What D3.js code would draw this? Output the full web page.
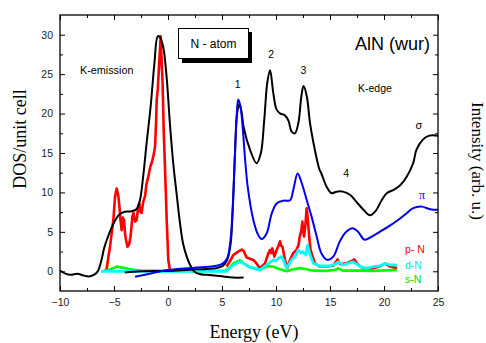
<!DOCTYPE html>
<html>
<head>
<meta charset="utf-8">
<script src="https://cdn.jsdelivr.net/npm/d3@7"></script>
<style>
  html, body { margin: 0; padding: 0; background: #fff; }
  svg { display: block; }
</style>
</head>
<body>
<svg id="chart" width="486" height="343"></svg>
<script>
// ---------- data (energy eV, DOS) ----------
const xTicks = [-10, -5, 0, 5, 10, 15, 20, 25];
const yTicks = [0, 5, 10, 15, 20, 25, 30];
const xMinor = [-7.5, -2.5, 2.5, 7.5, 12.5, 17.5, 22.5];
const yMinor = [2.5, 7.5, 12.5, 17.5, 22.5, 27.5, 32.5];

const totalEmission = [[-10,0.1],[-9.5,-0.3],[-9,-0.45],[-8.4,-0.3],[-7.9,-0.5],[-7.3,-0.65],[-6.8,-0.4],[-6.5,0],[-6.2,1.2],[-5.9,3.0],[-5.5,4.6],[-5.0,6.2],[-4.5,7.2],[-4.0,7.55],[-3.4,7.6],[-2.9,7.9],[-2.6,9.0],[-2.3,12.0],[-2.0,16.0],[-1.6,21.0],[-1.25,26.5],[-0.95,29.8],[-0.75,29.7],[-0.45,28.5],[-0.12,24.5],[0.2,18.3],[0.5,13.5],[0.8,9.8],[1.1,6.2],[1.4,3.5],[1.75,1.8],[2.05,0.8],[2.4,0],[2.9,-0.35],[3.6,-0.45],[4.8,-0.6],[6.0,-0.8],[7.0,-0.8]];

const totalEdge = [[-4.0,-0.15],[-2.5,0],[0,0.05],[2,0.2],[3.6,0.3],[4.5,0.4],[5.1,0.7],[5.5,1.5],[5.8,3.5],[6.0,8],[6.2,15],[6.4,20],[6.6,21.2],[6.8,20.3],[7.0,18.3],[7.6,15.4],[8.2,13.7],[8.6,15],[8.9,19],[9.2,24],[9.45,25.5],[9.75,22.6],[10.06,20.5],[10.4,20.0],[10.8,19.8],[11.15,19.1],[11.45,17.7],[11.75,17.5],[12.07,18.8],[12.35,22.2],[12.55,23.5],[12.85,22.2],[13.15,18.8],[13.6,15.4],[14.0,13.0],[14.2,12.4],[14.7,10.7],[15.15,9.9],[15.6,10.1],[16.2,10.1],[16.85,9.7],[17.45,8.8],[18.1,7.8],[18.7,7.1],[19.2,7.6],[19.8,9.05],[20.25,9.9],[20.85,10.3],[21.5,10.9],[22.1,12.0],[22.7,13.7],[23.0,15.4],[23.6,16.7],[24.2,17.2],[25,17.2]];

const piEdge = [[-3.05,-0.7],[-1.5,-0.25],[0,0.15],[1.5,0.35],[3,0.5],[4.5,0.7],[5.1,1.0],[5.5,1.7],[5.75,3.5],[5.95,7],[6.15,13],[6.35,19.5],[6.5,21.8],[6.7,21],[6.9,18.5],[7.15,14],[7.4,10.5],[7.9,6.5],[8.35,4.6],[8.67,4.1],[9.13,4.8],[9.6,7.3],[10.06,8.6],[10.7,8.95],[11.3,9.0],[11.6,10.3],[12.0,12.4],[12.38,11.2],[12.84,9.05],[13.3,6.9],[13.77,4.4],[14.2,2.3],[14.75,1.45],[15.3,1.85],[15.9,3.76],[16.5,5.0],[17.1,5.46],[17.6,5.0],[18.2,4.0],[18.86,4.4],[19.6,5.0],[20.4,5.66],[21.3,6.5],[22.1,7.36],[22.7,8.0],[23.5,8.2],[24.26,7.87],[25,7.8]];

const pEmission = [[-5.85,0],[-5.68,0.3],[-5.5,2.0],[-5.37,3.1],[-5.2,5],[-5.06,6.5],[-4.9,9.5],[-4.75,10.5],[-4.6,9.6],[-4.5,8.2],[-4.4,6.5],[-4.29,5.2],[-4.18,6.8],[-4.07,6.5],[-3.98,4.8],[-3.89,4.0],[-3.75,3.1],[-3.6,3.4],[-3.45,4.6],[-3.3,6.9],[-3.2,7.4],[-3.05,6.3],[-2.9,6.5],[-2.75,8.3],[-2.66,8.6],[-2.55,7.5],[-2.44,7.4],[-2.3,8.8],[-2.13,9.5],[-2.0,11],[-1.82,12.0],[-1.65,13.2],[-1.5,13.8],[-1.35,14.6],[-1.2,15.8],[-1.1,19],[-1.05,21.7],[-0.95,23],[-0.85,25.5],[-0.75,28],[-0.68,29.8],[-0.6,27],[-0.5,23.9],[-0.4,18],[-0.3,14],[-0.2,10],[-0.12,6.5],[0.03,1.4],[0.19,0.1]];

const pEdge = [[5.43,0.6],[5.75,1.3],[6.05,2.07],[6.5,2.5],[6.82,2.75],[7.0,2.6],[7.28,1.75],[7.9,1.43],[8.2,1.0],[8.5,0.4],[8.98,1.0],[9.3,2.3],[9.44,2.7],[9.55,2.3],[9.66,2.9],[9.85,1.85],[10.06,2.7],[10.25,3.3],[10.37,3.8],[10.5,3.2],[10.6,3.1],[10.83,1.45],[11.05,0.4],[11.3,1.45],[11.6,2.3],[11.9,2.7],[12.1,3.4],[12.2,4.4],[12.35,5.2],[12.44,6.3],[12.52,5.0],[12.6,4.4],[12.7,5.5],[12.84,8.0],[12.92,7.0],[13.0,5.7],[13.1,4.0],[13.2,2.7],[13.6,1.0],[14.07,0.6],[14.7,0.6],[15.3,0.7],[15.55,1.2],[15.7,1.5],[15.93,0.9],[16.5,1.0],[17.0,1.3],[17.25,1.5],[17.5,1.0],[17.8,0.6],[18.4,0.2],[19.0,0.4],[19.6,0.6],[20.1,1.0],[20.55,0.6],[21.2,0.4]];

const dN = [[-6.2,0],[-3,0],[0,0],[3,0],[5.4,0],[5.7,0.4],[6.05,0.8],[6.67,1.2],[7.0,1.0],[7.44,0.6],[8.0,0.4],[8.5,0.15],[9.13,0.8],[9.5,1.2],[9.75,1.45],[10.0,1.3],[10.2,1.65],[10.5,1.85],[10.7,1.4],[10.98,0.4],[11.2,0.9],[11.45,1.45],[11.76,1.85],[12.07,2.7],[12.3,2.3],[12.5,2.5],[12.75,2.1],[12.93,3.3],[13.15,2.1],[13.46,1.0],[14.07,0.67],[15.0,0.67],[15.5,0.9],[15.77,1.2],[16.2,0.8],[17.1,1.2],[17.5,0.9],[17.8,0.58],[18.4,0.38],[19.0,0.58],[19.6,0.67],[20.1,1.0],[20.55,0.8],[21.2,0.8]];

const sN = [[-6.0,0],[-5.5,0.2],[-5.06,0.4],[-4.75,0.6],[-4.4,0.5],[-4.1,0.45],[-3.6,0.3],[-3.2,0.2],[-2.5,0.1],[-1,0.05],[1,0.05],[3,0.05],[5.3,0.05],[5.7,0.5],[6.05,1.0],[6.67,1.4],[7.0,1.0],[7.6,0.5],[8.5,0.17],[9.0,0.5],[9.3,0.67],[9.75,0.58],[10.37,0.25],[10.98,0],[11.6,0.25],[12.2,0.4],[12.84,0.25],[13.46,0.08],[14.7,0.05],[15.5,0.2],[15.77,0.38],[16.2,0.08],[17.8,0.08],[19.0,0.05],[21.2,0.17]];

const peakLabels = [{t:"1",x:6.45,y:23.3},{t:"2",x:9.55,y:27.0},{t:"3",x:12.55,y:25.0},{t:"4",x:16.5,y:12.0}];

// ---------- layout ----------
const L = 60, R = 438, T = 15, B = 291;
const svg = d3.select("#chart");
const x = d3.scaleLinear().domain([-10, 25]).range([L, R]);
const y = d3.scaleLinear().domain([-2.5, 32.5]).range([B, T]);

const sans = "Arial, 'Liberation Sans', Helvetica, sans-serif";
const serif = "'Times New Roman', 'Liberation Serif', Times, serif";

// ---------- curves ----------
const smooth = d3.line().x(d => x(d[0])).y(d => y(d[1])).curve(d3.curveCatmullRom.alpha(0.5));
const jag = d3.line().x(d => x(d[0])).y(d => y(d[1]));

const plot = svg.append("g");
plot.append("path").datum(pEmission).attr("d", jag).attr("fill","none").attr("stroke","#ff0000").attr("stroke-width",2.6).attr("stroke-linejoin","round");
plot.append("path").datum(pEdge).attr("d", jag).attr("fill","none").attr("stroke","#ff0000").attr("stroke-width",2.6).attr("stroke-linejoin","round");
plot.append("path").datum(sN).attr("d", jag).attr("fill","none").attr("stroke","#00ff00").attr("stroke-width",2.6).attr("stroke-linejoin","round");
plot.append("path").datum(dN).attr("d", jag).attr("fill","none").attr("stroke","#00ffff").attr("stroke-width",2.8).attr("stroke-linejoin","round");
plot.append("path").datum(totalEmission).attr("d", smooth).attr("fill","none").attr("stroke","#000").attr("stroke-width",2);
plot.append("path").datum(totalEdge).attr("d", smooth).attr("fill","none").attr("stroke","#000").attr("stroke-width",2);
plot.append("path").datum(piEdge).attr("d", smooth).attr("fill","none").attr("stroke","#0000ee").attr("stroke-width",2);

// ---------- axes ----------
function styleAxis(g) {
  g.select(".domain").remove();
  g.selectAll(".tick line").attr("stroke", "#000").attr("stroke-width", 1);
  g.selectAll(".tick text").attr("fill", "#222").attr("font-family", sans).attr("font-size", "10.5px");
}
svg.append("g").attr("transform", `translate(0,${B})`)
  .call(d3.axisBottom(x).tickValues(xTicks).tickSize(-5).tickSizeOuter(0).tickPadding(8).tickFormat(d3.format("d"))).call(styleAxis);
svg.append("g").attr("transform", `translate(0,${B})`)
  .call(d3.axisBottom(x).tickValues(xMinor).tickSize(-3).tickSizeOuter(0).tickFormat("")).call(styleAxis);
svg.append("g").attr("transform", `translate(0,${T})`)
  .call(d3.axisTop(x).tickValues(xTicks).tickSize(-5).tickSizeOuter(0).tickFormat("")).call(styleAxis);
svg.append("g").attr("transform", `translate(0,${T})`)
  .call(d3.axisTop(x).tickValues(xMinor).tickSize(-3).tickSizeOuter(0).tickFormat("")).call(styleAxis);
svg.append("g").attr("transform", `translate(${L},0)`)
  .call(d3.axisLeft(y).tickValues(yTicks).tickSize(-5).tickSizeOuter(0).tickPadding(7).tickFormat(d3.format("d"))).call(styleAxis);
svg.append("g").attr("transform", `translate(${L},0)`)
  .call(d3.axisLeft(y).tickValues(yMinor.filter(v => v < 32.5)).tickSize(-3).tickSizeOuter(0).tickFormat("")).call(styleAxis);
svg.append("g").attr("transform", `translate(${R},0)`)
  .call(d3.axisRight(y).tickValues(yTicks).tickSize(-5).tickSizeOuter(0).tickFormat("")).call(styleAxis);
svg.append("g").attr("transform", `translate(${R},0)`)
  .call(d3.axisRight(y).tickValues(yMinor.filter(v => v < 32.5)).tickSize(-3).tickSizeOuter(0).tickFormat("")).call(styleAxis);

svg.append("rect").attr("x", L).attr("y", T).attr("width", R - L).attr("height", B - T)
  .attr("fill", "none").attr("stroke", "#000").attr("stroke-width", 1.3);

// ---------- axis titles ----------
svg.append("text").attr("transform", "translate(26,139) rotate(-90)").attr("text-anchor","middle")
  .attr("font-family", serif).attr("font-size","18px").attr("fill","#000").text("DOS/unit cell");
svg.append("text").attr("x", 254).attr("y", 338).attr("text-anchor","middle")
  .attr("font-family", serif).attr("font-size","18px").attr("fill","#000").text("Energy (eV)");
svg.append("text").attr("transform", "translate(472,161) rotate(90)").attr("text-anchor","middle")
  .attr("font-family", serif).attr("font-size","17px").attr("fill","#000").text("Intensity (arb. u.)");

// ---------- annotations ----------
svg.append("rect").attr("x", 182).attr("y", 32).attr("width", 70).attr("height", 31).attr("fill", "#000");
svg.append("rect").attr("x", 178.5).attr("y", 28.5).attr("width", 70).attr("height", 30).attr("fill", "#fff").attr("stroke","#000").attr("stroke-width",1);
svg.append("text").attr("x", 213.5).attr("y", 48).attr("text-anchor","middle").attr("font-family", sans).attr("font-size","12px").text("N - atom");

svg.append("text").attr("x", 355).attr("y", 50).attr("font-family", sans).attr("font-size","18px").text("AlN (wur)");
svg.append("text").attr("x", 80).attr("y", 74).attr("font-family", sans).attr("font-size","10.8px").text("K-emission");
svg.append("text").attr("x", 358).attr("y", 92).attr("font-family", sans).attr("font-size","10.5px").text("K-edge");

svg.selectAll(".pk").data(peakLabels).enter().append("text")
  .attr("x", d => x(d.x)).attr("y", d => y(d.y)).attr("text-anchor","middle")
  .attr("font-family", sans).attr("font-size","10.5px").text(d => d.t);

svg.append("text").attr("x", 419).attr("y", 129).attr("text-anchor","middle").attr("font-family", sans).attr("font-size","11px").text("σ");
svg.append("text").attr("x", 422).attr("y", 199).attr("text-anchor","middle").attr("font-family", serif).attr("font-size","12px").attr("fill","#0000ee").text("π");

svg.append("text").attr("x", 405).attr("y", 252.5).attr("font-family", sans).attr("font-size","10.5px").attr("fill","#ff0000").text("p- N");
svg.append("text").attr("x", 405).attr("y", 269).attr("font-family", sans).attr("font-size","10.5px").attr("fill","#00e5e5").text("d-N");
svg.append("text").attr("x", 405).attr("y", 283).attr("font-family", sans).attr("font-size","10.5px").attr("fill","#00dd00").text("s-N");
</script>
</body>
</html>
